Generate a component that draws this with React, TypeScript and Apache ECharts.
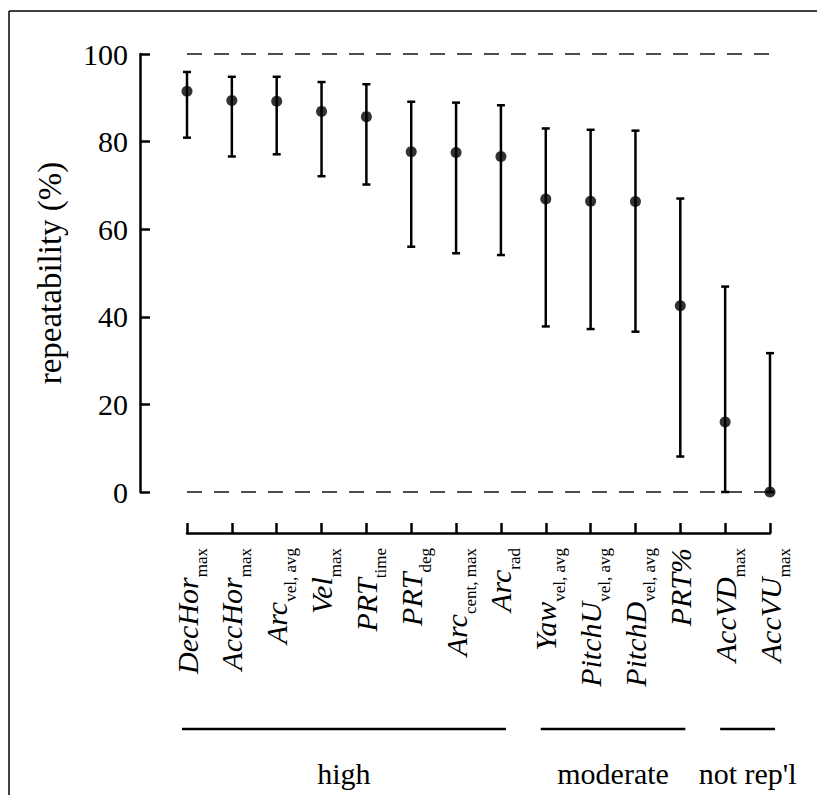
import React, { useEffect, useRef } from 'react';
import * as echarts from 'echarts';

// Measures (italic main name + upright subscript)
const labelMain = ['DecHor', 'AccHor', 'Arc', 'Vel', 'PRT', 'PRT', 'Arc', 'Arc', 'Yaw', 'PitchU', 'PitchD', 'PRT%', 'AccVD', 'AccVU'];
const labelSub = ['max', 'max', 'vel, avg', 'max', 'time', 'deg', 'cent, max', 'rad', 'vel, avg', 'vel, avg', 'vel, avg', '', 'max', 'max'];

// Repeatability estimates (%) with lower / upper confidence limits
const estimate = [91.5, 89.4, 89.2, 86.9, 85.7, 77.7, 77.5, 76.6, 66.9, 66.4, 66.3, 42.5, 16.0, 0];
const ciLower = [80.9, 76.6, 77.1, 72.1, 70.2, 56.0, 54.5, 54.1, 37.8, 37.2, 36.6, 8.1, 0, 0];
const ciUpper = [95.9, 94.8, 94.8, 93.6, 93.1, 89.1, 88.9, 88.3, 83.0, 82.7, 82.5, 67.0, 46.9, 31.7];

// Y axis range and reference lines
const yMin = 0;
const yMax = 100;
const yStep = 20;
const referenceLevels = [0, 100];

// Repeatability classes, as spans of measures
const groupNames = ['high', 'moderate', "not rep'l"];
const groupFirst = [0, 8, 12];
const groupLast = [7, 11, 13];

const categories = labelMain.map((m, i) => `${m}|${labelSub[i]}`);
const SERIF = 'Liberation Serif';

export default function App() {
  const ref = useRef<HTMLDivElement>(null);

  useEffect(() => {
    const chart = echarts.init(ref.current!, null, { renderer: 'svg' });

    chart.setOption({
      animation: false,
      backgroundColor: '#ffffff',
      textStyle: { fontFamily: SERIF, color: '#000' },
      grid: { left: 187, right: 47, top: 54, bottom: 303 },
      xAxis: {
        type: 'category',
        data: categories,
        boundaryGap: false,
        offset: 41,
        axisLine: { onZero: false, lineStyle: { color: '#000', width: 2.5 } },
        axisTick: { inside: true, length: 10, lineStyle: { color: '#000', width: 2.5 } },
        splitLine: { show: false },
        axisLabel: {
          interval: 0,
          rotate: 90,
          margin: 15,
          color: '#000',
          formatter: (_v: string, i: number) =>
            `{m|${labelMain[i]}}` + (labelSub[i] ? `{s|${labelSub[i]}}` : ''),
          rich: {
            m: { fontFamily: SERIF, fontStyle: 'italic', fontSize: 30, color: '#000' },
            s: { fontFamily: SERIF, fontSize: 17, color: '#000', padding: [28, 0, 0, 0] },
          },
        },
      },
      yAxis: {
        type: 'value',
        min: yMin,
        max: yMax,
        interval: yStep,
        offset: 47,
        name: 'repeatability (%)',
        nameLocation: 'middle',
        nameGap: 74,
        nameTextStyle: { fontFamily: SERIF, fontSize: 33, color: '#000' },
        axisLine: { show: true, onZero: false, lineStyle: { color: '#000', width: 2.5 } },
        axisTick: { show: true, inside: true, length: 10, lineStyle: { color: '#000', width: 2.5 } },
        splitLine: { show: false },
        axisLabel: { fontFamily: SERIF, fontSize: 30, color: '#000', margin: 12 },
      },
      series: [
        {
          type: 'custom',
          clip: false,
          z: 2,
          data: categories.map((_c, i) => [i, ciLower[i], ciUpper[i]]),
          renderItem: (_params: any, api: any) => {
            const lo = api.coord([api.value(0), api.value(1)]);
            const hi = api.coord([api.value(0), api.value(2)]);
            const cap = 4;
            const style = { stroke: '#000', lineWidth: 2.5 };
            return {
              type: 'group',
              children: [
                { type: 'line', shape: { x1: lo[0], y1: lo[1], x2: hi[0], y2: hi[1] }, style },
                { type: 'line', shape: { x1: hi[0] - cap, y1: hi[1], x2: hi[0] + cap, y2: hi[1] }, style },
                { type: 'line', shape: { x1: lo[0] - cap, y1: lo[1], x2: lo[0] + cap, y2: lo[1] }, style },
              ],
            };
          },
        },
        {
          type: 'scatter',
          clip: false,
          z: 3,
          symbol: 'circle',
          symbolSize: 11,
          itemStyle: { color: '#000' },
          data: estimate.map((v, i) => [i, v]),
          markLine: {
            silent: true,
            symbol: 'none',
            z: 1,
            label: { show: false },
            lineStyle: { color: '#4d4d4d', width: 2, type: [15, 12] },
            data: referenceLevels.map((v) => ({ yAxis: v })),
          },
        },
      ],
    });

    // class spans and captions under the measure labels
    const x0 = chart.convertToPixel({ xAxisIndex: 0 }, 0) as number;
    const x1 = chart.convertToPixel({ xAxisIndex: 0 }, 1) as number;
    const step = x1 - x0;
    const xAt = (k: number) => x0 + k * step;
    const pad = 5;
    const lineY = 729;
    const captionY = 773;

    const groupGraphics: any[] = [];
    groupNames.forEach((name, g) => {
      const a = xAt(groupFirst[g]) - pad;
      const b = xAt(groupLast[g]) + pad;
      groupGraphics.push({
        type: 'line',
        shape: { x1: a, y1: lineY, x2: b, y2: lineY },
        style: { stroke: '#000', lineWidth: 2.5 },
      });
      groupGraphics.push({
        type: 'text',
        x: (xAt(groupFirst[g]) + xAt(groupLast[g])) / 2,
        y: captionY,
        style: {
          text: name,
          fontFamily: SERIF,
          fontSize: 30,
          fill: '#000',
          align: 'center',
          verticalAlign: 'middle',
        },
      });
    });

    chart.setOption({
      graphic: [
        { type: 'line', shape: { x1: 9, y1: 11, x2: 817, y2: 11 }, style: { stroke: '#000', lineWidth: 1.5 } },
        { type: 'line', shape: { x1: 9, y1: 11, x2: 9, y2: 795 }, style: { stroke: '#000', lineWidth: 1.5 } },
        ...groupGraphics,
      ],
    });

    return () => chart.dispose();
  }, []);

  return (
    <div
      ref={ref}
      style={{ position: 'fixed', left: 0, top: 0, width: 817, height: 795, background: '#fff' }}
    />
  );
}
